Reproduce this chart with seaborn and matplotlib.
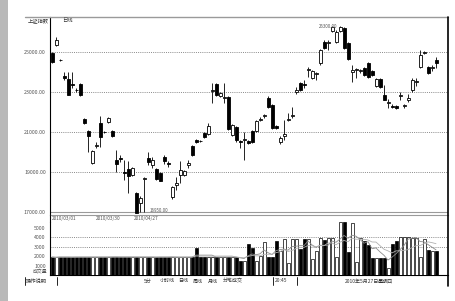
import matplotlib
matplotlib.use("Agg")
import matplotlib.pyplot as plt
from matplotlib.lines import Line2D
from matplotlib.patches import Rectangle
import numpy as np
import pandas as pd
import seaborn as sns

# ---------------- data ----------------
opens = [24950, 25350, 24620, 23800, 23650, 23400, 23120, 23400, 21650, 21050,
         19450, 20300, 21450, 21000, 21500, 21050, 19600, 19700, 19000, 19150,
         18850, 17950, 17450, 18650, 19700, 19350, 19150, 18950, 19750, 19450,
         17750, 18350, 18850, 18850, 19350, 20300, 20600, 20550, 20950, 20900,
         23050, 23400, 22800, 22700, 22750, 20850, 21250, 20550, 20600, 20550,
         21050, 21050, 21600, 21800, 22700, 22350, 21300, 20500, 20800, 21600,
         21800, 23000, 23450, 23400, 24100, 23700, 23900, 24450, 25500, 25450,
         26050, 25500, 26050, 26200, 25450, 24000, 24100, 24050, 24200, 24450,
         24050, 23300, 23650, 22850, 22450, 22300, 22300, 22800, 22300, 22600,
         23100, 23500, 24250, 24950, 24250, 24200, 24600]
closes = [24500, 25600, 24580, 23700, 22850, 23350, 23080, 22850, 21450, 20800,
          20050, 20350, 20750, 20980, 21700, 20800, 19400, 19650, 18950, 18800,
          19200, 16950, 17700, 18700, 19500, 19600, 18650, 18550, 19550, 19400,
          18250, 18450, 19100, 19050, 19450, 19850, 20500, 20530, 20750, 21300,
          23100, 22850, 22950, 22750, 21150, 21350, 20600, 20500, 20650, 20450,
          20500, 21550, 21650, 21820, 22250, 21200, 21200, 20700, 20900, 21650,
          21850, 23100, 23100, 23350, 24150, 24050, 23950, 25100, 25200, 25470,
          26250, 26000, 26250, 25200, 24650, 24100, 24150, 24070, 23850, 23750,
          23850, 23650, 23250, 22600, 22470, 22250, 22200, 22850, 22350, 22700,
          23600, 23550, 24850, 25000, 23950, 24220, 24450]
highs = [25000, 25750, 24650, 24000, 24000, 24000, 23200, 23450, 21700, 21100,
         20100, 20500, 21800, 21050, 21750, 21100, 20100, 19850, 19600, 19550,
         19250, 18000, 17800, 18750, 20000, 19750, 19200, 19000, 19850, 19550,
         18300, 18750, 19550, 19100, 19600, 20350, 20650, 20600, 21000, 21450,
         23450, 23450, 23000, 23450, 22800, 21400, 21300, 20600, 21000, 20600,
         21100, 21600, 21750, 21900, 22800, 22400, 21350, 20800, 21600, 21950,
         22250, 23250, 23500, 23600, 24250, 24100, 24000, 25150, 25600, 25600,
         26300, 26100, 26300, 26250, 25500, 24350, 24200, 24150, 24250, 24500,
         24100, 23700, 23700, 23350, 22650, 22400, 22350, 23000, 22400, 22900,
         23700, 23700, 25100, 25050, 24300, 24350, 24750]
lows = [24450, 25300, 24550, 23600, 22850, 23200, 23000, 22800, 21400, 20000,
        19400, 20200, 20250, 20950, 21450, 20750, 19000, 19500, 18600, 17950,
        18800, 16950, 17000, 17000, 19350, 19200, 18600, 18550, 19400, 19250,
        17650, 18100, 18450, 18800, 19200, 19800, 20450, 20500, 20700, 20850,
        22450, 22800, 22750, 22450, 21100, 20800, 20500, 20200, 19600, 20400,
        20450, 21000, 21550, 21700, 22200, 21150, 21150, 20400, 20600, 21550,
        21700, 22900, 23050, 23200, 23750, 23650, 23600, 24350, 25150, 25100,
        26000, 25450, 26000, 25150, 24600, 23500, 23700, 23950, 23800, 23700,
        23800, 23250, 23200, 22600, 22200, 22200, 22150, 22600, 22200, 22500,
        23000, 23300, 24200, 24900, 23900, 24050, 24200]
volumes = [1900, 1850, 1950, 1900, 1900, 1850, 1900, 1950, 1900, 1900,
           1850, 1900, 1950, 1900, 1900, 1900, 1950, 1900, 1900, 1900,
           1850, 1950, 1900, 1900, 1900, 1850, 1900, 1950, 1900, 1900,
           1900, 1850, 1900, 1900, 1900, 1900, 2900, 1900, 1900, 1900,
           1900, 1900, 1900, 1900, 1900, 1900, 1900, 1500, 1500, 3300,
           2900, 1500, 2000, 3500, 1900, 1900, 3600, 2500, 3800, 1300,
           3800, 3800, 2800, 3800, 3800, 1700, 2500, 3900, 3700, 3900,
           3900, 1900, 5600, 5600, 2400, 5500, 1400, 3900, 3600, 3200,
           1800, 1800, 1800, 1800, 700, 3300, 3600, 4000, 4000, 4000,
           3900, 3900, 1900, 3800, 2600, 2500, 2500]

price_ticks = [25000, 23000, 21000, 19000, 17000]
price_labels = ["25000.00", "23000.00", "21000.00", "19000.00", "17000.00"]
vol_ticks = [5000, 4000, 3000, 2000, 1000]
vol_labels = ["5000", "4000", "3000", "2000", "1000"]
date_labels = ["2010/03/01", "2010/03/30", "2010/04/27"]
bottom_items = ["5分", "小时线", "日线", "周线", "月线", "分笔成交"]

# ---------------- style ----------------
sns.set_style("white")
plt.rcParams["font.family"] = ["Noto Sans CJK SC", "DejaVu Sans"]

W, H = 455, 301
fig = plt.figure(figsize=(W / 100, H / 100), dpi=100)
fig.patch.set_facecolor("white")

def fx(px):
    return px / W

def fy(py):
    return 1 - py / H

# left gray strip
fig.patches.append(Rectangle((0, 0), fx(8), 1, transform=fig.transFigure,
                             facecolor="#b9b9b9", edgecolor="none"))

ax = fig.add_axes([fx(50), fy(215), fx(398), (215 - 17) / H])
axv = fig.add_axes([fx(50), fy(275), fx(398), (275 - 222) / H])

df = pd.DataFrame({"open": opens, "close": closes, "high": highs,
                   "low": lows, "volume": volumes})
df["idx"] = np.arange(len(df))
df["up"] = df["close"] >= df["open"]

# wicks
ax.vlines(df["idx"], df["low"], df["high"], color="black", lw=0.6, zorder=2)
# bodies
bottoms = np.minimum(df["open"], df["close"])
heights = np.maximum(np.abs(df["close"] - df["open"]), 40)
ax.bar(df["idx"], heights, bottom=bottoms, width=0.75,
       color=np.where(df["up"], "white", "black"), edgecolor="black",
       linewidth=0.6, zorder=3)

ax.set_xlim(-0.5, 99)
ax.set_ylim(16850, 26750)
ax.set_yticks(price_ticks)
ax.set_yticklabels(price_labels, fontsize=3.8, color="#555555")
ax.set_xticks([])
for t in price_ticks[:-1]:
    ax.axhline(t, color="#8a8a8a", lw=0.7, ls=(0, (1, 1.2)), zorder=1)
ax.axhline(17000, color="#9a9a9a", lw=0.8, zorder=1)
ax.tick_params(axis="y", length=2, width=0.5, pad=1, colors="#555555")
for s in ["right"]:
    ax.spines[s].set_visible(False)
ax.spines["top"].set_visible(False)
ax.spines["left"].set_color("black")
ax.spines["left"].set_linewidth(0.8)
ax.spines["bottom"].set_color("#9a9a9a")
ax.spines["bottom"].set_linewidth(0.8)

ax.text(71.3, 26250, "26300.00", fontsize=3.2, ha="right", va="center", color="#555555")
ax.text(24.5, 17080, "16950.00", fontsize=3.2, ha="left", va="center", color="#555555")

# volume panel
axv.bar(df["idx"], df["volume"], width=0.75,
        color=np.where(df["up"], "white", "black"), edgecolor="black",
        linewidth=0.5, zorder=3)
ma5 = df["volume"].rolling(5, min_periods=1).mean()
ma10 = df["volume"].rolling(10, min_periods=1).mean()
sns.lineplot(x=df["idx"], y=ma5, ax=axv, color="#8c8c8c", lw=0.6, zorder=4)
sns.lineplot(x=df["idx"], y=ma10, ax=axv, color="#b0b0b0", lw=0.6, zorder=4)
axv.set_xlim(-0.5, 99)
axv.set_ylim(0, 5600)
axv.set_yticks(vol_ticks)
axv.set_yticklabels(vol_labels, fontsize=3.8, color="#555555")
axv.set_xticks([])
axv.set_xlabel("")
axv.set_ylabel("")
for t in [4000, 3000]:
    axv.axhline(t, color="#8a8a8a", lw=0.7, ls=(0, (1, 1.2)), zorder=1)
axv.tick_params(axis="y", length=2, width=0.5, pad=1, colors="#555555")
axv.spines["top"].set_visible(False)
axv.spines["right"].set_visible(False)
axv.spines["left"].set_color("black")
axv.spines["left"].set_linewidth(0.8)
axv.spines["bottom"].set_color("black")
axv.spines["bottom"].set_linewidth(0.8)
ax.set_ylabel("")
fig.text(fx(47), fy(271), "成交量", fontsize=3.5, ha="right", va="center", color="#555555")

# frame lines
fig.lines.append(Line2D([fx(25), fx(448)], [fy(17), fy(17)], transform=fig.transFigure,
                        color="#9a9a9a", lw=1.0))
fig.lines.append(Line2D([fx(448), fx(448)], [fy(17), fy(286)], transform=fig.transFigure,
                        color="black", lw=1.2))
fig.lines.append(Line2D([fx(50), fx(50)], [fy(215), fy(222)], transform=fig.transFigure,
                        color="black", lw=0.8))

# header
fig.text(fx(28), fy(21), "上证指数", fontsize=3.8, ha="left", va="center", color="#333333")
fig.text(fx(62), fy(21), "日线", fontsize=3.8, ha="left", va="center", color="#333333")

# date labels
for px, lab in zip([52, 96, 134], date_labels):
    fig.text(fx(px), fy(218.5), lab, fontsize=3.4, ha="left", va="center", color="#555555")

# bottom bar
fig.text(fx(26), fy(281), "操作说明", fontsize=3.8, ha="left", va="center", color="#333333")
fig.lines.append(Line2D([fx(25), fx(25)], [fy(277), fy(285)], transform=fig.transFigure, color="black", lw=0.6))
fig.lines.append(Line2D([fx(57), fx(57)], [fy(277), fy(285)], transform=fig.transFigure, color="black", lw=0.6))
for px, lab in zip([144, 160, 178, 193, 208, 223], bottom_items):
    fig.text(fx(px), fy(281), lab, fontsize=3.6, ha="left", va="center", color="#333333")
fig.text(fx(275), fy(281), "20:45", fontsize=3.6, ha="left", va="center", color="#333333")
fig.lines.append(Line2D([fx(273), fx(273)], [fy(277), fy(285)], transform=fig.transFigure, color="black", lw=0.6))
fig.lines.append(Line2D([fx(297), fx(297)], [fy(277), fy(285)], transform=fig.transFigure, color="black", lw=0.6))
fig.text(fx(345), fy(281), "2010年5月27日", fontsize=3.6, ha="left", va="center", color="#333333")
fig.text(fx(378), fy(281), "星期四", fontsize=3.6, ha="left", va="center", color="#333333")

fig.savefig("out.png", dpi=100, facecolor="white")
